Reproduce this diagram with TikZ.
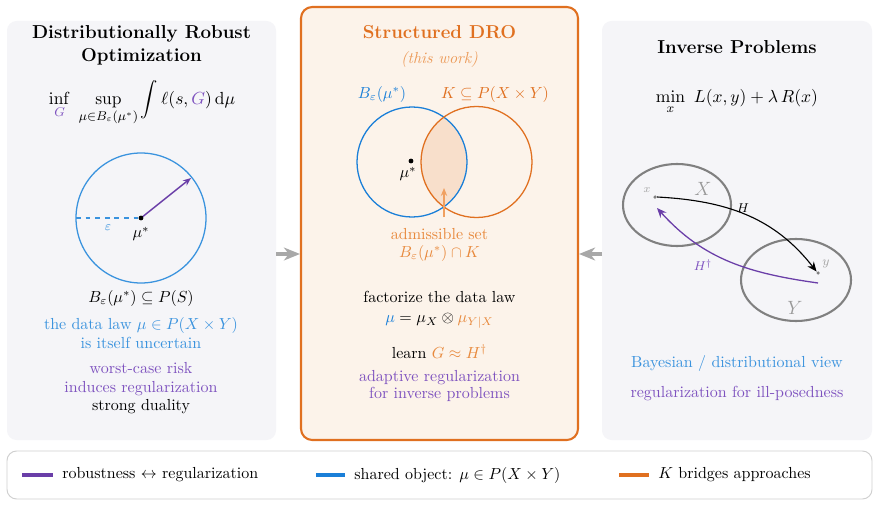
\documentclass[tikz,border=0pt]{standalone}
\usepackage{amsmath,amssymb}
\usetikzlibrary{arrows.meta}
\definecolor{panelgray}{HTML}{F5F5F8}
\definecolor{midfill}{HTML}{FCF3EA}
\definecolor{orng}{HTML}{E07020}
\definecolor{orngtext}{HTML}{E8893C}
\definecolor{orngarrow}{HTML}{F0A060}
\definecolor{orngital}{HTML}{EC9A58}
\definecolor{interfill}{HTML}{F8DFCB}
\definecolor{bluel}{HTML}{3A93DE}
\definecolor{blued}{HTML}{1A7FD8}
\definecolor{purp}{HTML}{6A3EA8}
\definecolor{purpt}{HTML}{7E52BF}
\definecolor{grayarrow}{HTML}{A8A8A8}
\definecolor{ellgray}{HTML}{808080}
\definecolor{legborder}{HTML}{D0D0D0}
\begin{document}
\begin{tikzpicture}[x=0.625pt,y=-0.625pt,
  txt/.style={inner sep=0pt,align=center,font=\fontsize{10}{11.8}\selectfont},
  fml/.style={inner sep=0pt,align=center,font=\fontsize{10.8}{13}\selectfont},
  ttl/.style={inner sep=0pt,align=center,font=\fontsize{11.7}{14.5}\selectfont\bfseries},
  panel/.style={rounded corners=6pt,fill=panelgray},
  bigarrow/.style={grayarrow,line width=1.9pt,-{Stealth[length=10pt,width=8pt,inset=3pt]}},
  legbar/.style={line width=2.5pt},
  dotn/.style={circle,fill=black,inner sep=0pt,minimum size=3pt}]
\useasboundingbox (0,0) rectangle (879,507);
\fill[white] (0,0) rectangle (879,507);
% panels
\fill[panel] (7,21) rectangle (276,440);
\fill[panel] (602,21) rectangle (872,440);
\draw[orng,line width=1.3pt,fill=midfill,rounded corners=7pt] (301,7) rectangle (578,440);
% connecting arrows
\coordinate (la) at (276,254); \coordinate (lb) at (300,254);
\coordinate (ra) at (602,254); \coordinate (rb) at (579,254);
\draw[bigarrow] (la) -- (lb);
\draw[bigarrow] (ra) -- (rb);

% ---------- left panel
\node[ttl] (t1) at (141.5,45) {Distributionally Robust\\Optimization};
\node[fml] (f1) at (142,103) {$\displaystyle \inf_{\textcolor{purpt}{G}}\ \sup_{\mu\in B_\varepsilon(\mu^*)}\int \ell(s,\textcolor{purpt}{G})\,\mathrm{d}\mu$};
\coordinate (mu) at (141,218);
\draw[bluel,line width=0.8pt] (mu) circle[radius=65];
\coordinate (lft) at (76,218);
\draw[bluel,dashed,line width=0.7pt] (lft) -- (mu);
\coordinate (rim) at (191,178);
\draw[purp,line width=0.9pt,-{Stealth[length=5pt,width=4pt]}] (mu) -- (rim);
\node[dotn] (mudot) at (mu) {};
\node[txt,text=bluel,font=\fontsize{8}{9}\selectfont] (eps) at (108,228) {$\varepsilon$};
\node[txt] (mul) at (141,234) {$\mu^*$};
\node[txt] (b1) at (141,298) {$B_\varepsilon(\mu^*)\subseteq P(S)$};
\node[txt,text=bluel] (b2) at (141,333) {the data law $\mu\in P(X\times Y)$\\is itself uncertain};
\node[txt,text=purpt] (b3) at (141,379) {worst-case risk\\induces regularization};
\node[txt] (b4) at (141,407) {strong duality};

% ---------- middle panel
\node[ttl,text=orng] (t2) at (439.5,32) {Structured DRO};
\node[txt,text=orngital,font=\fontsize{10}{12}\selectfont\itshape] (tw) at (439.5,60) {(this work)};
\node[txt,text=blued] (bl) at (382,94) {$B_\varepsilon(\mu^*)$};
\node[txt,text=orng] (kl) at (495,94) {$K\subseteq P(X\times Y)$};
\coordinate (cb) at (412,162);
\coordinate (co) at (476.5,162);
\begin{scope}
\clip (cb) circle[radius=55];
\fill[interfill] (co) circle[radius=55.5];
\end{scope}
\draw[blued,line width=0.8pt] (cb) circle[radius=55];
\draw[orng,line width=0.8pt] (co) circle[radius=55.5];
\node[dotn] (md) at (411,161) {};
\node[txt] (mdl) at (408,174) {$\mu^*$};
\coordinate (aa) at (444,217); \coordinate (ab) at (444,188);
\draw[orngarrow,line width=0.8pt,-{Stealth[length=5pt,width=4pt]}] (aa) -- (ab);
\node[txt,text=orngtext,font=\fontsize{10}{11}\selectfont] (adm) at (439.5,245) {admissible set\\$B_\varepsilon(\mu^*)\cap K$};
\node[txt] (fac) at (439.5,297) {factorize the data law};
\node[txt] (eq) at (439.5,321) {$\textcolor{blued}{\mu}=\mu_X\otimes\textcolor{orngtext}{\mu_{Y|X}}$};
\node[txt] (lrn) at (439.5,352) {learn \textcolor{orngtext}{$G\approx H^\dagger$}};
\node[txt,text=purpt,font=\fontsize{10}{11}\selectfont] (ad) at (439.5,386) {adaptive regularization\\for inverse problems};

% ---------- right panel
\node[ttl] (t3) at (737,47) {Inverse Problems};
\node[fml] (f3) at (737,102) {$\displaystyle \min_{x}\ L(x,y)+\lambda\,R(x)$};
\draw[ellgray,line width=1.3pt] (677,205) ellipse[x radius=54,y radius=41];
\draw[ellgray,line width=1.3pt] (796,280) ellipse[x radius=55,y radius=41];
\node[circle,fill=ellgray,inner sep=0pt,minimum size=2.2pt] (xd) at (655,197) {};
\node[circle,fill=ellgray,inner sep=0pt,minimum size=2.2pt] (yd) at (818,273) {};
\node[txt,text=gray!70,font=\fontsize{7}{8}\selectfont] (xl) at (647,190) {$x$};
\node[txt,text=gray!70,font=\fontsize{8}{9}\selectfont] (yl) at (826,264) {$y$};
\node[txt,text=gray!80,font=\fontsize{12}{14}\selectfont] (XL) at (703,189) {$X$};
\node[txt,text=gray!80,font=\fontsize{12}{14}\selectfont] (YL) at (795,308) {$Y$};
\coordinate (hs) at (818,283);
\coordinate (he) at (657,208);
\draw[black,line width=0.7pt,-{Stealth[length=6pt,width=5pt]}] (xd.east) to[out=-3,in=128] (yd.north west);
\draw[purp,line width=0.8pt,-{Stealth[length=6pt,width=5pt]}] (hs) to[out=172,in=-48] (he);
\node[txt,font=\fontsize{8}{9}\selectfont] (hl) at (743,208) {$H$};
\node[txt,text=purpt,font=\fontsize{8}{9}\selectfont] (hdl) at (703,265) {$H^\dagger$};
\node[txt,text=bluel] (bay) at (737,363) {Bayesian / distributional view};
\node[txt,text=purpt] (reg) at (737,394) {regularization for ill-posedness};

% ---------- legend
\draw[legborder,fill=white,line width=0.6pt,rounded corners=6pt] (7,451) rectangle (872,499);
\coordinate (p1) at (22,475); \coordinate (p2) at (53,475);
\coordinate (q1) at (316,475); \coordinate (q2) at (345,475);
\coordinate (r1) at (619,475); \coordinate (r2) at (649,475);
\draw[legbar,purp] (p1) -- (p2);
\draw[legbar,blued] (q1) -- (q2);
\draw[legbar,orng] (r1) -- (r2);
\node[txt,anchor=west] (l1) at (62,475) {robustness $\leftrightarrow$ regularization};
\node[txt,anchor=west] (l2) at (354,475) {shared object: $\mu\in P(X\times Y)$};
\node[txt,anchor=west] (l3) at (658,475) {$K$ bridges approaches};
\end{tikzpicture}
\end{document}
